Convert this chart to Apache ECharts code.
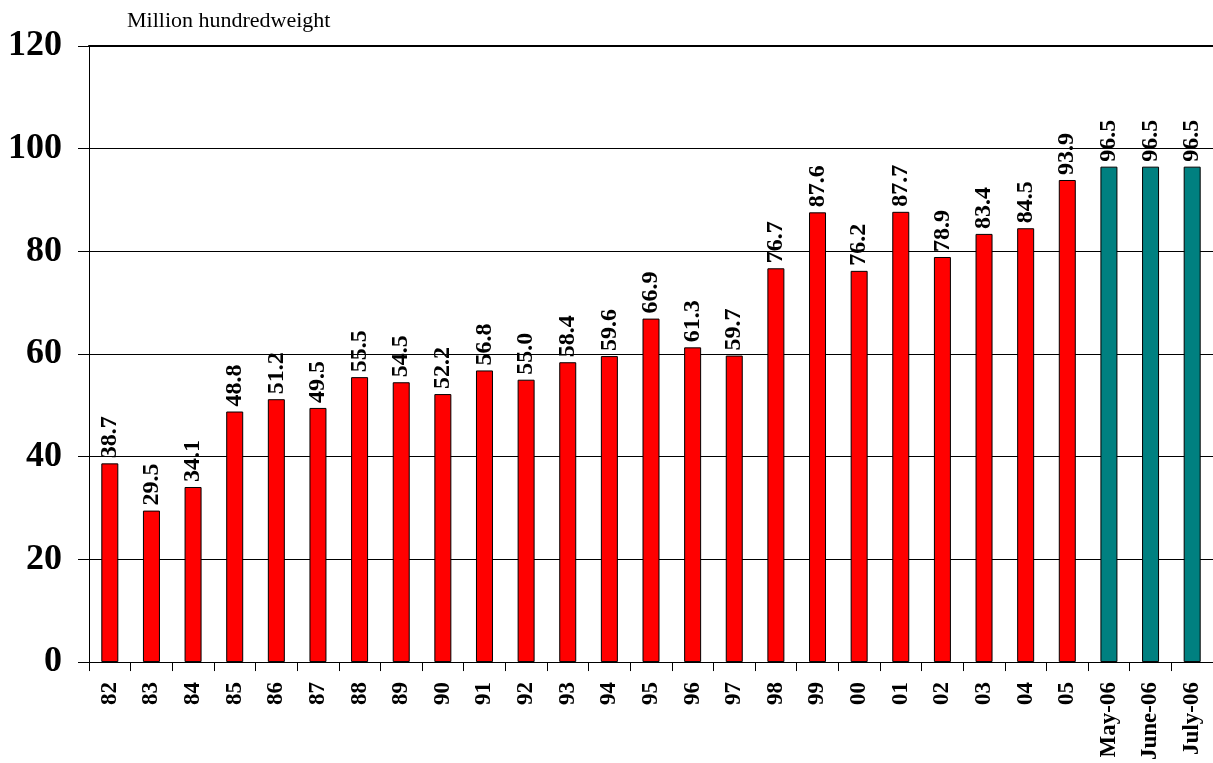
<!DOCTYPE html>
<html lang="en">
<head>
    <meta charset="UTF-8">
    <title>Million hundredweight</title>
    <script src="https://cdn.jsdelivr.net/npm/echarts@6/dist/echarts.min.js"></script>
    <style type="text/css">
        html, body { margin:0; padding:0; background:#fff; }
        #main{ width:1213px; height:763px; }
    </style>
</head>
<body>
<div id="main"></div>
<script type="application/javascript">
    var categories = ["82","83","84","85","86","87","88","89","90","91","92","93","94","95","96","97","98","99","00","01","02","03","04","05","May-06","June-06","July-06"];
    var values = [38.7,29.5,34.1,48.8,51.2,49.5,55.5,54.5,52.2,56.8,55.0,58.4,59.6,66.9,61.3,59.7,76.7,87.6,76.2,87.7,78.9,83.4,84.5,93.9,96.5,96.5,96.5];
    // last three are forecasts
    var forecastFrom = 24;

    var font = '"Times New Roman", "Liberation Serif", serif';
    var myChart = echarts.init(document.getElementById('main'));

    myChart.setOption({
        animation:false,
        title:{
            text:'Million hundredweight',
            left:122,
            top:5,
            textStyle:{ fontFamily:font, fontSize:22, fontWeight:'normal', color:'#000' }
        },
        grid:{ left:89, right:0, top:46, bottom:100 },
        xAxis:[{
            type:'category',
            data:categories,
            axisLine:{ lineStyle:{ color:'#000', width:1 } },
            axisTick:{ show:true, length:9, lineStyle:{ color:'#000', width:1 } },
            axisLabel:{
                rotate:90, margin:20, color:'#000',
                fontFamily:font, fontSize:23, fontWeight:'bold'
            }
        }, {
            // thicker line along the top of the plot
            type:'category',
            position:'top',
            data:categories,
            axisLine:{ show:true, lineStyle:{ color:'#000', width:2 } },
            axisTick:{ show:false },
            axisLabel:{ show:false }
        }],
        yAxis:{
            type:'value',
            min:0, max:120, interval:20,
            axisLine:{ show:true, lineStyle:{ color:'#000', width:1 } },
            axisTick:{ show:true, inside:false, length:11, lineStyle:{ color:'#000' } },
            splitLine:{ lineStyle:{ color:'#000', width:1 } },
            axisLabel:{ margin:27, color:'#000', fontFamily:font, fontSize:36, fontWeight:'bold' }
        },
        series:[{
            type:'bar',
            xAxisIndex:0,
            barWidth:17,
            data:values.map(function (v, i) {
                return { value:v, itemStyle:{ color: i >= forecastFrom ? '#008080' : '#ff0000' } };
            }),
            itemStyle:{ borderColor:'#000', borderWidth:1 },
            label:{
                show:true,
                position:'top',
                rotate:90,
                align:'left',
                verticalAlign:'middle',
                distance:5,
                color:'#000',
                fontFamily:font, fontSize:24, fontWeight:'bold',
                formatter:function (p) { return p.value.toFixed(1); }
            }
        }]
    });
</script>
</body>
</html>
